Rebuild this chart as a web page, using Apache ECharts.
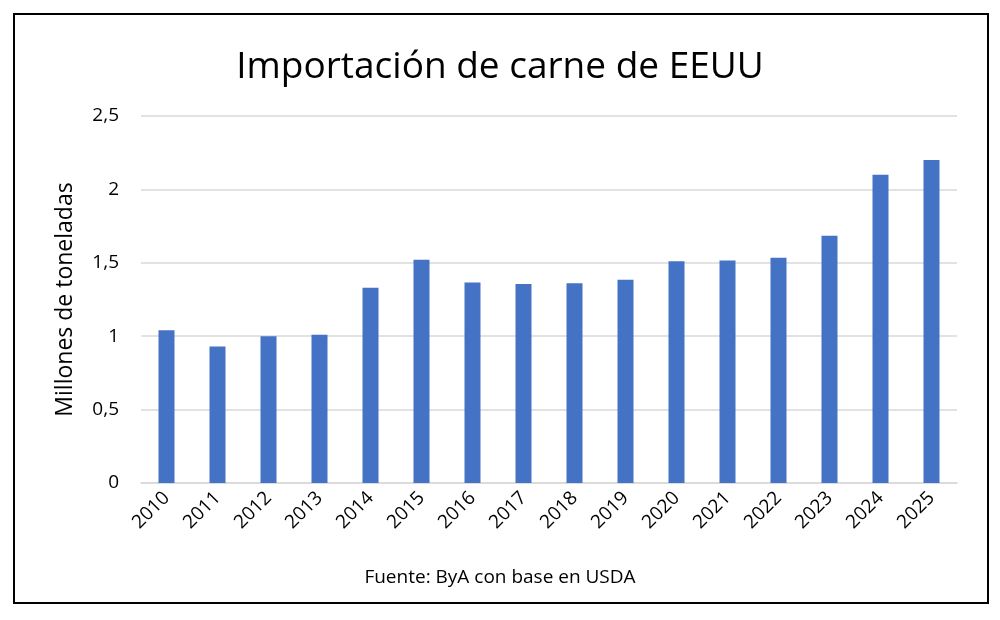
<!DOCTYPE html>
<html style="height: 100%">
<head>
<meta charset="utf-8">
</head>
<body style="height: 100%; margin: 0; background: #fff">
<div id="container" style="width: 1000px; height: 620px"></div>
<script type="text/javascript" src="https://cdn.jsdelivr.net/npm/echarts@6/dist/echarts.min.js"></script>
<script type="text/javascript">
// datos (millones de toneladas)
var years = ['2010','2011','2012','2013','2014','2015','2016','2017','2018','2019','2020','2021','2022','2023','2024','2025'];
var imports = [1.04, 0.93, 1.00, 1.01, 1.33, 1.52, 1.365, 1.355, 1.36, 1.385, 1.51, 1.515, 1.535, 1.685, 2.10, 2.20];

var chart = echarts.init(document.getElementById('container'));
var fontFam = 'Open Sans';

var option = {
    animation: false,
    backgroundColor: '#fff',
    title: {
        text: 'Importación de carne de EEUU',
        left: 'center',
        top: 44,
        textStyle: {fontFamily: fontFam, fontSize: 37, fontWeight: 'normal', color: '#000'}
    },
    graphic: [
        {
            type: 'rect',
            shape: {x: 14, y: 14, width: 974, height: 589},
            style: {fill: 'none', stroke: '#000', lineWidth: 2}
        },
        {
            type: 'text',
            left: 'center',
            top: 568,
            style: {text: 'Fuente: ByA con base en USDA', font: '19px "Open Sans"', fill: '#000'}
        }
    ],
    grid: {left: 141, right: 43, top: 116, bottom: 137},
    xAxis: {
        type: 'category',
        data: years,
        axisLine: {lineStyle: {color: '#d9d9d9', width: 1.5}},
        axisTick: {show: false},
        axisLabel: {interval: 0, rotate: 45, margin: 12, fontFamily: fontFam, fontSize: 19, color: '#000'}
    },
    yAxis: {
        type: 'value',
        min: 0,
        max: 2.5,
        interval: 0.5,
        name: 'Millones de toneladas',
        nameLocation: 'middle',
        nameGap: 64,
        nameTextStyle: {fontFamily: fontFam, fontSize: 23, color: '#000'},
        axisLine: {show: false},
        axisTick: {show: false},
        splitLine: {lineStyle: {color: '#d9d9d9', width: 1.5}},
        axisLabel: {
            margin: 22,
            fontFamily: fontFam,
            fontSize: 19,
            color: '#000',
            formatter: function (v) { return String(v).replace('.', ','); }
        }
    },
    series: [{
        type: 'bar',
        data: imports,
        barWidth: 16,
        itemStyle: {color: '#4472c4'}
    }]
};
chart.setOption(option);
</script>
</body>
</html>
